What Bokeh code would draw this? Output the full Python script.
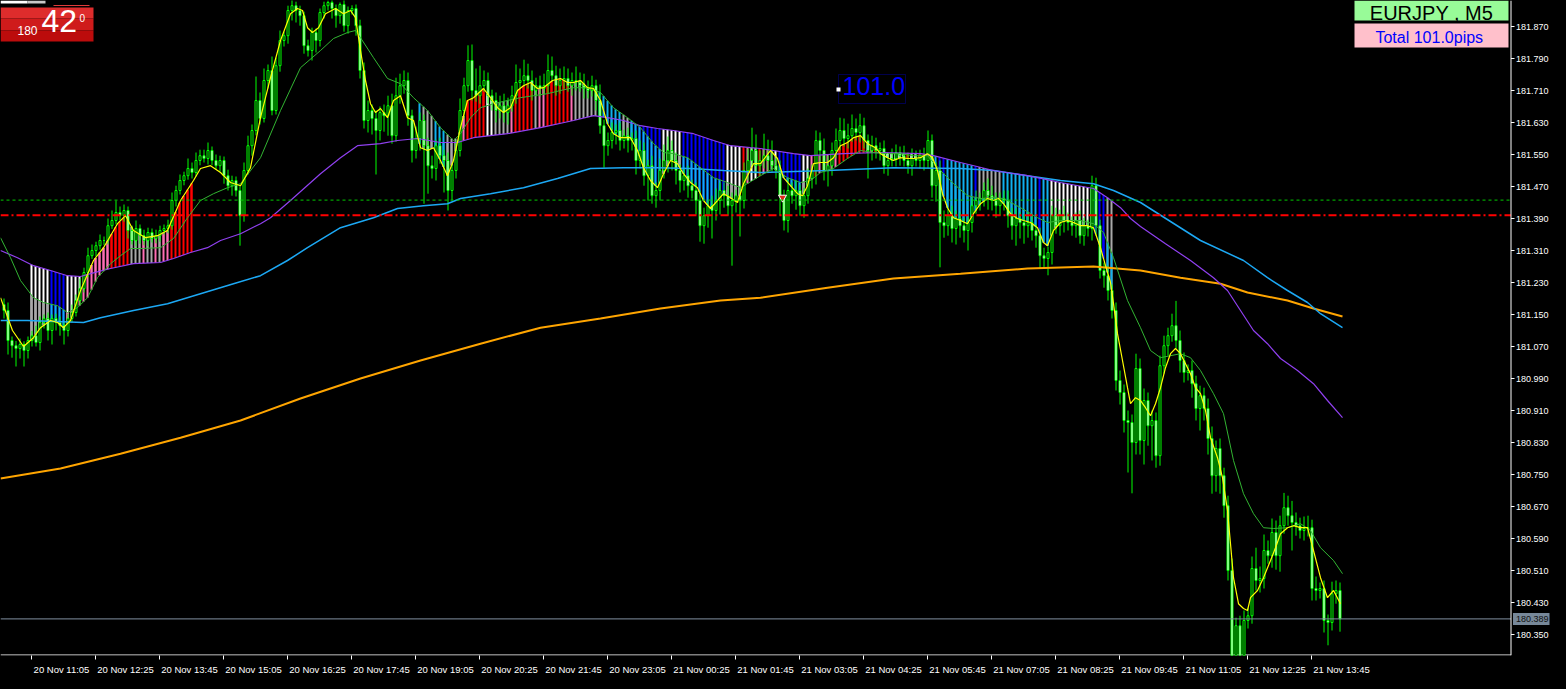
import numpy as np
from bokeh.plotting import figure
from bokeh.models import (Range1d, FixedTicker, Span, Label, BoxAnnotation)
from bokeh.core.properties import value
from bokeh.embed import file_html
from bokeh.resources import INLINE

# ---------------- data (EURJPY M5, bar 0 = 20 Nov 11:05) ----------------
FIRST_BAR = -7
first_open = 181.175

closes = [
    181.160, 181.085, 181.072, 181.065, 181.075, 181.060, 181.085, 181.097, 181.080, 181.130,
    181.140, 181.110, 181.140, 181.130, 181.122, 181.110, 181.140, 181.155, 181.185, 181.215,
    181.255, 181.297, 181.310, 181.322, 181.335, 181.335, 181.372, 181.385, 181.405, 181.397,
    181.410, 181.360, 181.335, 181.365, 181.347, 181.335, 181.355, 181.340, 181.347, 181.360,
    181.365, 181.372, 181.435, 181.460, 181.485, 181.497, 181.515, 181.505, 181.535, 181.547,
    181.540, 181.560, 181.535, 181.522, 181.535, 181.497, 181.472, 181.485, 181.460, 181.397,
    181.510, 181.572, 181.610, 181.685, 181.640, 181.735, 181.760, 181.660, 181.772, 181.835,
    181.847, 181.910, 181.922, 181.910, 181.897, 181.822, 181.810, 181.855, 181.835, 181.905,
    181.922, 181.930, 181.915, 181.897, 181.925, 181.872, 181.910, 181.915, 181.872, 181.760,
    181.635, 181.660, 181.640, 181.610, 181.655, 181.647, 181.672, 181.597, 181.697, 181.722,
    181.735, 181.647, 181.560, 181.590, 181.635, 181.572, 181.522, 181.515, 181.572, 181.547,
    181.535, 181.460, 181.510, 181.560, 181.660, 181.722, 181.785, 181.710, 181.697, 181.722,
    181.735, 181.697, 181.685, 181.660, 181.672, 181.655, 181.672, 181.697, 181.730, 181.735,
    181.747, 181.735, 181.710, 181.722, 181.715, 181.722, 181.760, 181.747, 181.722, 181.735,
    181.740, 181.722, 181.735, 181.730, 181.722, 181.715, 181.710, 181.722, 181.685, 181.622,
    181.572, 181.585, 181.605, 181.610, 181.585, 181.597, 181.585, 181.590, 181.535, 181.560,
    181.497, 181.522, 181.447, 181.460, 181.510, 181.535, 181.560, 181.535, 181.510, 181.485,
    181.497, 181.472, 181.460, 181.435, 181.372, 181.397, 181.422, 181.410, 181.435, 181.460,
    181.447, 181.422, 181.435, 181.447, 181.435, 181.510, 181.535, 181.560, 181.522, 181.535,
    181.547, 181.535, 181.522, 181.510, 181.447, 181.385, 181.460, 181.447, 181.460, 181.422,
    181.447, 181.490, 181.510, 181.585, 181.560, 181.510, 181.522, 181.560, 181.585, 181.610,
    181.590, 181.597, 181.615, 181.605, 181.622, 181.585, 181.560, 181.572, 181.560, 181.565,
    181.522, 181.535, 181.540, 181.555, 181.547, 181.535, 181.522, 181.540, 181.535, 181.547,
    181.535, 181.585, 181.472, 181.510, 181.380, 181.372, 181.397, 181.365, 181.390, 181.372,
    181.360, 181.380, 181.422, 181.435, 181.440, 181.460, 181.447, 181.435, 181.422, 181.440,
    181.435, 181.397, 181.372, 181.390, 181.380, 181.372, 181.380, 181.360, 181.347, 181.297,
    181.290, 181.305, 181.397, 181.372, 181.397, 181.385, 181.380, 181.372, 181.385, 181.347,
    181.372, 181.365, 181.472, 181.372, 181.260, 181.247, 181.210, 181.160, 180.985, 180.955,
    180.885, 180.880, 180.830, 181.015, 180.835, 180.935, 180.872, 180.885, 180.797, 181.022,
    181.072, 181.097, 181.122, 181.085, 181.035, 181.005, 181.010, 180.977, 180.915, 180.947,
    180.915, 180.840, 180.747, 180.815, 180.747, 180.672, 180.510, 180.297, 180.372, 180.297,
    180.385, 180.397, 180.515, 180.485, 180.490, 180.560, 180.547, 180.605, 180.547, 180.622,
    180.667, 180.647, 180.630, 180.622, 180.610, 180.615, 180.617, 180.465, 180.460, 180.465,
    180.385, 180.380, 180.452, 180.460, 180.389,
]

# wick lengths in points (0.001)
upper_wick_pts = [
    15, 20, 10, 12, 15, 8, 10, 12, 25, 15,
    10, 15, 10, 12, 15, 10, 12, 20, 15, 25,
    12, 20, 15, 10, 15, 10, 18, 25, 30, 15,
    15, 10, 12, 20, 10, 15, 12, 10, 15, 12,
    10, 15, 20, 12, 15, 10, 25, 15, 20, 15,
    15, 20, 10, 15, 12, 10, 15, 12, 10, 15,
    20, 25, 15, 60, 20, 30, 15, 35, 20, 25,
    10, 12, 15, 10, 12, 10, 15, 12, 10, 10,
    10, 5, 8, 10, 5, 12, 10, 8, 10, 15,
    20, 25, 15, 20, 15, 20, 25, 30, 45, 30,
    25, 20, 15, 30, 20, 15, 20, 25, 15, 20,
    15, 20, 15, 25, 30, 20, 38, 40, 55, 50,
    25, 20, 15, 20, 25, 30, 20, 25, 45, 30,
    40, 30, 25, 20, 25, 30, 40, 35, 25, 30,
    30, 25, 20, 35, 25, 30, 20, 25, 15, 40,
    15, 20, 25, 15, 20, 15, 20, 15, 20, 25,
    20, 15, 25, 20, 30, 40, 35, 25, 20, 15,
    20, 25, 15, 20, 25, 20, 15, 25, 30, 20,
    20, 25, 20, 15, 25, 20, 30, 57, 40, 25,
    55, 40, 50, 20, 25, 15, 30, 20, 25, 15,
    20, 25, 15, 25, 20, 30, 25, 20, 30, 32,
    30, 30, 35, 25, 30, 20, 15, 25, 20, 15,
    20, 15, 25, 20, 15, 25, 20, 25, 20, 15,
    20, 25, 15, 20, 25, 30, 20, 25, 20, 15,
    20, 15, 20, 25, 15, 20, 30, 25, 20, 15,
    20, 25, 20, 25, 15, 20, 25, 20, 15, 20,
    20, 15, 25, 20, 15, 25, 20, 15, 20, 25,
    20, 15, 25, 20, 15, 20, 25, 15, 20, 25,
    20, 25, 20, 37, 25, 30, 20, 25, 20, 25,
    25, 20, 30, 62, 25, 20, 15, 25, 20, 25,
    20, 25, 30, 20, 25, 20, 25, 30, 20, 25,
    25, 20, 30, 52, 30, 40, 25, 35, 30, 25,
    37, 30, 37, 25, 20, 30, 30, 20, 30, 15,
    20, 15, 30, 25, 20,
]
lower_wick_pts = [
    20, 35, 30, 45, 25, 40, 20, 15, 10, 20,
    15, 25, 35, 20, 25, 35, 15, 10, 10, 12,
    10, 12, 8, 15, 10, 12, 10, 8, 10, 12,
    15, 20, 10, 15, 20, 12, 15, 10, 12, 15,
    10, 12, 10, 15, 10, 12, 10, 15, 10, 12,
    10, 15, 12, 10, 15, 20, 12, 25, 15, 75,
    15, 10, 25, 12, 15, 10, 20, 12, 10, 15,
    15, 20, 25, 30, 25, 20, 15, 25, 30, 15,
    15, 12, 25, 30, 20, 15, 20, 10, 25, 20,
    20, 30, 40, 110, 25, 40, 50, 20, 15, 20,
    20, 25, 30, 20, 30, 145, 70, 25, 30, 20,
    80, 50, 25, 20, 15, 20, 15, 25, 15, 20,
    15, 20, 25, 30, 20, 25, 30, 15, 20, 15,
    15, 20, 25, 15, 20, 15, 20, 15, 25, 20,
    20, 15, 25, 20, 15, 25, 20, 15, 25, 20,
    55, 25, 20, 30, 25, 20, 30, 25, 35, 20,
    25, 62, 20, 30, 25, 20, 30, 25, 35, 30,
    25, 30, 20, 35, 40, 45, 30, 70, 25, 35,
    30, 25, 150, 30, 90, 20, 25, 15, 20, 25,
    20, 25, 15, 20, 50, 25, 30, 20, 35, 25,
    30, 20, 25, 35, 30, 25, 40, 25, 20, 25,
    20, 25, 15, 20, 25, 20, 70, 25, 20, 25,
    20, 25, 15, 20, 25, 15, 20, 25, 15, 20,
    25, 20, 30, 40, 112, 30, 25, 35, 40, 30,
    30, 50, 25, 20, 25, 20, 35, 25, 30, 25,
    25, 30, 35, 50, 40, 45, 30, 25, 30, 32,
    25, 42, 30, 20, 25, 30, 20, 25, 30, 20,
    25, 20, 30, 25, 20, 30, 25, 20, 25, 30,
    30, 125, 127, 30, 35, 60, 50, 87, 30, 25,
    20, 25, 15, 20, 30, 25, 20, 35, 30, 55,
    30, 40, 45, 40, 45, 30, 25, 12, 15, 10,
    8, 20, 20, 25, 30, 25, 20, 30, 35, 40,
    20, 25, 70, 25, 20, 25, 20, 30, 25, 20,
    30, 57, 20, 25, 32,
]

# moving averages: (bar position, price)
yellow_ma = [
    (-7.75, 181.192), (-4.75, 181.110), (-2.0, 181.070), (0.5, 181.092), (2.25, 181.117),
    (4.75, 181.135), (6.5, 181.130), (8.0, 181.117), (9.75, 181.135), (12.25, 181.210),
    (15.5, 181.285), (18.0, 181.317), (21.5, 181.377), (23.5, 181.397), (25.5, 181.360),
    (28.5, 181.342), (31.5, 181.347), (34.0, 181.360), (37.25, 181.435), (40.5, 181.485),
    (42.25, 181.515), (44.75, 181.522), (47.25, 181.505), (49.75, 181.480), (52.25, 181.472),
    (54.75, 181.517), (57.25, 181.642), (59.75, 181.742), (62.25, 181.835), (64.75, 181.902),
    (66.5, 181.915), (67.75, 181.910), (69.0, 181.867), (70.25, 181.855), (71.75, 181.867),
    (73.5, 181.902), (76.0, 181.915), (78.0, 181.902), (79.75, 181.910), (81.0, 181.892),
    (82.25, 181.810), (83.5, 181.735), (84.75, 181.677), (86.0, 181.655), (87.25, 181.665),
    (89.0, 181.642), (90.5, 181.685), (92.25, 181.697), (94.0, 181.642), (95.5, 181.635),
    (97.25, 181.567), (99.0, 181.560), (100.5, 181.567), (102.25, 181.535), (104.0, 181.497),
    (105.5, 181.535), (107.25, 181.617), (109.0, 181.685), (110.5, 181.692), (113.0, 181.715),
    (114.75, 181.692), (116.5, 181.667), (118.0, 181.655), (119.75, 181.667), (121.5, 181.710),
    (123.0, 181.722), (124.75, 181.730), (126.5, 181.715), (128.0, 181.717), (130.25, 181.735),
    (132.25, 181.740), (134.0, 181.730), (135.5, 181.730), (137.25, 181.735), (139.0, 181.717),
    (140.5, 181.715), (142.25, 181.685), (144.0, 181.627), (145.5, 181.602), (147.25, 181.592),
    (149.75, 181.592), (151.5, 181.560), (153.0, 181.517), (154.75, 181.485), (156.5, 181.467),
    (158.0, 181.502), (159.75, 181.535), (161.5, 181.527), (163.0, 181.502), (164.75, 181.480),
    (166.5, 181.467), (168.0, 181.435), (169.75, 181.415), (171.5, 181.435), (173.0, 181.452),
    (174.75, 181.442), (176.5, 181.430), (178.0, 181.477), (180.5, 181.527), (182.25, 181.527),
    (184.75, 181.560), (186.5, 181.540), (188.0, 181.492), (189.75, 181.472), (191.5, 181.452),
    (192.75, 181.447), (194.0, 181.472), (195.5, 181.527), (197.25, 181.530), (199.0, 181.530),
    (200.5, 181.542), (202.25, 181.572), (204.0, 181.580), (205.5, 181.592), (207.25, 181.597),
    (209.0, 181.577), (211.0, 181.567), (212.25, 181.552), (214.0, 181.542), (215.5, 181.535),
    (217.25, 181.542), (219.0, 181.540), (220.5, 181.540), (222.25, 181.542), (224.0, 181.552),
    (225.25, 181.542), (226.5, 181.510), (227.75, 181.452), (229.0, 181.417), (230.5, 181.392),
    (232.25, 181.385), (234.0, 181.377), (235.5, 181.402), (237.25, 181.427), (239.0, 181.440),
    (240.5, 181.435), (241.75, 181.440), (243.0, 181.427), (244.75, 181.402), (246.5, 181.390),
    (248.0, 181.385), (249.75, 181.380), (251.5, 181.367), (253.0, 181.330), (254.0, 181.322),
    (255.5, 181.360), (257.25, 181.380), (259.0, 181.385), (260.5, 181.380), (262.25, 181.372),
    (264.0, 181.372), (265.5, 181.367), (267.25, 181.317), (268.5, 181.272), (269.75, 181.230),
    (270.5, 181.177), (271.5, 181.102), (272.75, 181.035), (274.0, 180.967), (274.75, 180.927),
    (276.0, 180.942), (277.25, 180.935), (278.5, 180.917), (279.75, 180.897), (281.0, 180.927),
    (282.25, 180.967), (283.5, 181.017), (284.75, 181.052), (286.0, 181.065), (287.25, 181.052),
    (288.5, 181.027), (289.75, 181.002), (291.0, 180.967), (292.25, 180.952), (293.5, 180.910),
    (294.75, 180.842), (296.5, 180.792), (297.75, 180.742), (299.0, 180.660), (299.75, 180.577),
    (300.5, 180.492), (301.75, 180.427), (303.0, 180.415), (304.0, 180.410), (304.75, 180.442),
    (306.5, 180.460), (308.0, 180.492), (309.75, 180.535), (311.0, 180.567), (312.25, 180.602),
    (314.0, 180.617), (315.5, 180.622), (317.25, 180.617), (319.0, 180.617), (320.5, 180.560),
    (322.25, 180.492), (324.0, 180.442), (325.5, 180.460), (327.25, 180.427),
]
green_ma = [
    (-7.75, 181.342), (-5.25, 181.292), (-2.75, 181.235), (0.5, 181.192), (3.0, 181.180),
    (6.5, 181.172), (9.0, 181.155), (11.5, 181.167), (14.0, 181.192), (16.5, 181.242),
    (19.75, 181.277), (22.25, 181.297), (24.75, 181.315), (27.25, 181.315), (32.25, 181.317),
    (35.5, 181.340), (39.0, 181.392), (42.25, 181.435), (45.5, 181.452), (49.0, 181.467),
    (52.25, 181.477), (57.25, 181.542), (62.25, 181.660), (67.25, 181.767), (72.25, 181.810),
    (75.5, 181.840), (79.0, 181.855), (81.0, 181.860), (82.25, 181.842), (85.5, 181.792),
    (89.0, 181.740), (92.25, 181.727), (95.5, 181.692), (99.0, 181.660), (102.25, 181.617),
    (105.5, 181.585), (107.25, 181.602), (109.75, 181.642), (112.25, 181.667), (115.5, 181.677),
    (119.0, 181.685), (122.25, 181.692), (125.5, 181.697), (129.0, 181.702), (132.25, 181.710),
    (135.5, 181.717), (139.0, 181.717), (142.25, 181.705), (145.5, 181.667), (149.0, 181.642),
    (152.25, 181.617), (155.5, 181.577), (158.0, 181.555), (160.5, 181.552), (164.0, 181.542),
    (167.25, 181.517), (170.5, 181.492), (174.0, 181.480), (177.25, 181.467), (182.25, 181.497),
    (185.5, 181.515), (189.0, 181.492), (192.25, 181.480), (194.75, 181.485), (197.25, 181.505),
    (200.5, 181.515), (204.0, 181.540), (207.25, 181.560), (210.5, 181.555), (214.0, 181.552),
    (217.25, 181.552), (220.5, 181.547), (224.0, 181.547), (227.25, 181.510), (230.5, 181.477),
    (234.0, 181.447), (237.25, 181.440), (240.5, 181.442), (243.0, 181.440), (247.25, 181.417),
    (251.5, 181.392), (254.0, 181.380), (257.25, 181.385), (262.25, 181.385), (265.5, 181.377),
    (268.0, 181.355), (270.5, 181.292), (274.0, 181.185), (277.25, 181.117), (279.75, 181.060),
    (282.25, 181.042), (284.75, 181.047), (287.25, 181.052), (289.75, 181.042), (292.25, 181.010),
    (295.5, 180.952), (298.0, 180.902), (300.5, 180.785), (303.0, 180.702), (305.5, 180.652),
    (308.0, 180.617), (310.5, 180.615), (314.0, 180.617), (317.25, 180.627), (319.75, 180.610),
    (322.25, 180.567), (325.5, 180.535), (327.75, 180.502),
]
purple_ma = [
    (-7.75, 181.310), (-3.5, 181.292), (0.5, 181.272), (4.75, 181.260), (9.0, 181.247),
    (12.25, 181.245), (14.75, 181.252), (19.75, 181.265), (25.5, 181.277), (32.25, 181.280),
    (35.5, 181.290), (39.75, 181.305), (44.0, 181.317), (47.25, 181.335), (52.25, 181.352),
    (57.25, 181.377), (59.75, 181.392), (64.75, 181.435), (72.25, 181.502), (77.25, 181.542),
    (81.5, 181.572), (87.25, 181.577), (91.5, 181.585), (96.5, 181.590), (102.25, 181.580),
    (106.5, 181.580), (110.5, 181.592), (119.0, 181.602), (127.25, 181.617), (135.5, 181.635),
    (140.5, 181.647), (144.0, 181.642), (148.0, 181.635), (152.25, 181.622), (156.5, 181.615),
    (160.5, 181.610), (165.5, 181.602), (170.5, 181.585), (174.75, 181.572), (179.75, 181.567),
    (182.25, 181.565), (190.5, 181.552), (194.75, 181.547), (203.0, 181.552), (212.25, 181.555),
    (222.25, 181.552), (225.5, 181.547), (232.25, 181.530), (240.5, 181.510), (249.0, 181.497),
    (257.25, 181.480), (265.5, 181.465), (269.0, 181.442), (272.25, 181.417), (274.75, 181.390),
    (277.25, 181.370), (283.5, 181.327), (289.75, 181.285), (295.5, 181.242), (299.0, 181.210),
    (302.25, 181.160), (305.5, 181.110), (309.0, 181.077), (312.25, 181.040), (316.5, 181.010),
    (320.5, 180.977), (324.0, 180.935), (327.75, 180.892),
]
blue_ma = [
    (-7.75, 181.135), (-1.0, 181.135), (13.0, 181.130), (17.25, 181.142), (25.5, 181.160),
    (34.0, 181.177), (42.25, 181.202), (50.5, 181.227), (57.25, 181.247), (64.0, 181.285),
    (69.0, 181.317), (77.25, 181.367), (85.5, 181.392), (91.5, 181.415), (98.0, 181.422),
    (104.0, 181.427), (107.25, 181.440), (114.75, 181.452), (123.0, 181.467), (131.5, 181.490),
    (139.75, 181.515), (148.0, 181.517), (156.5, 181.517), (164.75, 181.515), (173.0, 181.510),
    (182.25, 181.505), (199.0, 181.510), (215.5, 181.517), (232.25, 181.515), (240.5, 181.510),
    (249.0, 181.497), (257.25, 181.485), (265.5, 181.477), (270.5, 181.460), (277.25, 181.430),
    (292.25, 181.335), (303.0, 181.285), (309.0, 181.242), (314.0, 181.210), (319.0, 181.180),
    (322.25, 181.152), (327.75, 181.117),
]
orange_ma = [
    (-7.75, 180.740), (7.25, 180.765), (22.25, 180.802), (37.25, 180.842), (52.25, 180.885),
    (67.25, 180.940), (82.25, 180.990), (97.25, 181.035), (112.25, 181.077), (127.25, 181.117),
    (142.25, 181.140), (157.25, 181.165), (172.25, 181.185), (182.25, 181.192), (199.0, 181.217),
    (215.5, 181.240), (232.25, 181.252), (249.0, 181.265), (265.5, 181.270), (277.25, 181.260),
    (287.25, 181.242), (297.25, 181.227), (304.0, 181.205), (314.0, 181.185), (320.5, 181.165),
    (327.75, 181.145),
]

# colour histogram runs: (first bar, last bar, colour yellow->slow MA, colour yellow->mid MA)
hist_runs = [
    (0, 4, "W", "G"), (5, 8, "B", "C"), (9, 12, "W", "P"), (13, 19, "P", "P"), (20, 24, "R", "R"),
    (25, 27, "G", "G"), (28, 28, "P", "P"), (29, 30, "G", "G"), (31, 31, "P", "P"), (32, 32, "G", "G"),
    (33, 34, "P", "P"), (35, 40, "R", "R"),
    (97, 97, "C", "C"), (98, 100, "G", "G"), (101, 103, "C", "C"), (104, 106, "G", "G"),
    (107, 108, "P", "P"), (109, 113, "R", "R"), (114, 115, "W", "W"), (116, 119, "G", "G"),
    (120, 120, "P", "P"), (121, 125, "R", "R"), (126, 126, "G", "G"), (127, 128, "P", "P"),
    (129, 134, "R", "R"), (135, 135, "P", "P"), (136, 141, "G", "G"), (142, 147, "C", "C"),
    (148, 149, "G", "G"), (150, 150, "C", "C"), (151, 157, "B", "C"), (158, 162, "W", "G"),
    (163, 172, "B", "C"), (173, 173, "B", "B"), (174, 177, "W", "G"), (178, 178, "R", "R"),
    (179, 179, "P", "P"), (180, 181, "W", "W"), (182, 182, "R", "R"), (183, 184, "P", "P"),
    (185, 186, "W", "G"), (187, 192, "B", "C"), (193, 194, "W", "G"), (195, 195, "P", "P"),
    (196, 196, "R", "R"), (197, 197, "P", "P"), (198, 198, "R", "R"), (199, 201, "P", "P"),
    (202, 208, "R", "R"), (209, 210, "P", "P"), (211, 212, "R", "R"), (213, 218, "W", "W"),
    (219, 219, "R", "R"), (220, 221, "W", "W"), (222, 223, "R", "R"), (224, 225, "W", "W"),
    (226, 226, "C", "C"), (227, 228, "B", "C"), (229, 235, "C", "C"), (236, 236, "B", "C"),
    (237, 242, "G", "C"), (243, 251, "C", "C"), (252, 252, "B", "B"), (253, 254, "C", "C"),
    (255, 265, "W", "G"), (266, 268, "B", "B"), (269, 270, "G", "C"),
]
hist_palette = {"R": "#FF0000", "P": "#FF6EB4", "W": "#FFFFFF", "G": "#A9A9A9",
                "B": "#0000FF", "C": "#10B0F0"}

green_level = 181.436
red_level = 181.398
bid_price = 180.389
arrow_bar, arrow_price = 187.75, 181.4425

x_tick_bars = [-16, 0, 16, 32, 48, 64, 80, 96, 112, 128, 144, 160, 176, 192, 208, 224,
               240, 256, 272, 288, 304, 320]
x_tick_labels = ["20 Nov 09:45", "20 Nov 11:05", "20 Nov 12:25", "20 Nov 13:45", "20 Nov 15:05",
                 "20 Nov 16:25", "20 Nov 17:45", "20 Nov 19:05", "20 Nov 20:25", "20 Nov 21:45",
                 "20 Nov 23:05", "21 Nov 00:25", "21 Nov 01:45", "21 Nov 03:05", "21 Nov 04:25",
                 "21 Nov 05:45", "21 Nov 07:05", "21 Nov 08:25", "21 Nov 09:45", "21 Nov 11:05",
                 "21 Nov 12:25", "21 Nov 13:45"]
y_ticks = [180.350, 180.430, 180.510, 180.590, 180.670, 180.750, 180.830, 180.910, 180.990,
           181.070, 181.150, 181.230, 181.310, 181.390, 181.470, 181.550, 181.630, 181.710,
           181.790, 181.870]

# ---------------- layout ----------------
FW, FH = 1550, 655
PX_PER_BAR = 4.0
PX_PER_PRICE = 400.0
X_START = -7.75
Y_TOP = 181.935
FONT = "Liberation Sans"


def sx(px):  # screen pixel -> bar coordinate (used for overlay placement only)
    return (px - 31) / PX_PER_BAR


def sy(py):
    return Y_TOP - py / PX_PER_PRICE


p = figure(frame_width=FW, frame_height=FH,
           x_range=Range1d(X_START, X_START + FW / PX_PER_BAR),
           y_range=Range1d(Y_TOP - FH / PX_PER_PRICE, Y_TOP),
           y_axis_location=None, output_backend="svg", toolbar_location=None,
           min_border=0, min_border_left=0, min_border_top=0, min_border_right=0, min_border_bottom=0)
p.background_fill_color = "#000000"
p.border_fill_color = "#000000"
p.outline_line_color = None
p.grid.visible = False

try:
    from bokeh.models import GlobalInlineStyleSheet
    p.stylesheets = [GlobalInlineStyleSheet(css="html, body { background-color: #000000; }")]
except Exception:
    pass

AXIS_PX = 1510.5
AXIS_X = sx(AXIS_PX)

# bottom time axis: minor ticks mark the times, major (hidden) ticks carry left-aligned labels
label_pos = [t + 7.5 for t in x_tick_bars]
xa = p.xaxis[0]
xa.ticker = FixedTicker(ticks=label_pos, minor_ticks=x_tick_bars)
xa.major_label_overrides = {lp: lab for lp, lab in zip(label_pos, x_tick_labels)}
xa.axis_line_color = None
xa.major_tick_line_color = None
xa.major_tick_in = 0
xa.major_tick_out = 0
xa.minor_tick_line_color = "#FFFFFF"
xa.minor_tick_in = 0
xa.minor_tick_out = 4
xa.major_label_standoff = 4
xa.major_label_text_color = "#FFFFFF"
xa.major_label_text_font = FONT
xa.major_label_text_font_size = "9.5px"

y_bottom = Y_TOP - FH / PX_PER_PRICE
# chart frame lines (bottom + right price scale)
p.segment(x0=[X_START], y0=[y_bottom + 0.5 / PX_PER_PRICE], x1=[AXIS_X],
          y1=[y_bottom + 0.5 / PX_PER_PRICE], line_color="#FFFFFF", line_width=1)
p.add_layout(Span(location=AXIS_X, dimension="height", line_color="#FFFFFF", line_width=1))
p.segment(x0=[AXIS_X] * len(y_ticks), y0=y_ticks, x1=[sx(AXIS_PX + 3.5)] * len(y_ticks), y1=y_ticks,
          line_color="#FFFFFF", line_width=1)
p.text(x=[sx(AXIS_PX + 5)] * len(y_ticks), y=y_ticks, text=[f"{v:.3f}" for v in y_ticks],
       text_color="#FFFFFF", text_font=value(FONT), text_font_size=value("9px"),
       text_baseline="middle", text_align="left")

# ---------------- histogram ----------------
yb, yv = zip(*yellow_ma)
gb, gv = zip(*green_ma)
pb, pv = zip(*purple_ma)
h1x, h1a, h1b, h1c = [], [], [], []
h2x, h2a, h2b, h2c = [], [], [], []
for a, b, c_main, c_sub in hist_runs:
    for i in range(a, b + 1):
        yi = float(np.interp(i, yb, yv))
        h1x.append(i); h1a.append(yi); h1b.append(float(np.interp(i, pb, pv))); h1c.append(hist_palette[c_main])
        h2x.append(i); h2a.append(yi); h2b.append(float(np.interp(i, gb, gv))); h2c.append(hist_palette[c_sub])
p.segment(x0=h1x, y0=h1a, x1=h1x, y1=h1b, line_color=h1c, line_width=2)
p.segment(x0=h2x, y0=h2a, x1=h2x, y1=h2b, line_color=h2c, line_width=2)

# ---------------- candles ----------------
n = min(len(closes), len(upper_wick_pts), len(lower_wick_pts))
bars = np.arange(FIRST_BAR, FIRST_BAR + n) + 0.125
c = np.array(closes[:n])
o = np.concatenate([[first_open], c[:-1]])
top = np.maximum(o, c)
bot = np.minimum(o, c)
hi = top + np.array(upper_wick_pts[:n]) * 0.001
lo = bot - np.array(lower_wick_pts[:n]) * 0.001
fill = ["#000000" if cc > oo else "#FFFFFF" for cc, oo in zip(c, o)]
p.segment(x0=bars, y0=lo, x1=bars, y1=hi, line_color="#00FF00", line_width=1)
p.vbar(x=bars, width=0.5, top=top, bottom=bot, fill_color=fill, line_color="#00FF00", line_width=1)

# ---------------- moving averages ----------------
for pts, col, w in [(orange_ma, "#FFA500", 2), (blue_ma, "#1CA8F4", 1.5), (purple_ma, "#9040F0", 1.2),
                    (green_ma, "#32B432", 1), (yellow_ma, "#FFFF00", 1.2)]:
    xs, ys = zip(*pts)
    p.line(list(xs), list(ys), line_color=col, line_width=w)

# signal arrow
p.scatter([arrow_bar], [arrow_price], marker="inverted_triangle", size=8,
          fill_color="#E02818", line_color="#FFFFFF", line_width=1)

# ---------------- horizontal levels ----------------
p.segment(x0=[X_START], y0=[green_level], x1=[AXIS_X], y1=[green_level],
          line_color="#00CC00", line_dash="3 3", line_width=1)
p.segment(x0=[X_START], y0=[red_level], x1=[AXIS_X], y1=[red_level],
          line_color="#FF0000", line_dash="8 3 2 3", line_width=2)
p.segment(x0=[X_START], y0=[bid_price], x1=[AXIS_X], y1=[bid_price],
          line_color="#8090A0", line_width=1)

# bid price tag on the price scale
p.quad(left=[sx(AXIS_PX + 2)], right=[sx(1549)], top=[bid_price + 6 / PX_PER_PRICE],
       bottom=[bid_price - 6 / PX_PER_PRICE], fill_color="#778899", line_color=None)
p.text(x=[sx(AXIS_PX + 5)], y=[bid_price], text=[f"{bid_price:.3f}"], text_color="#101010",
       text_font=value(FONT), text_font_size=value("9px"), text_baseline="middle")

# ---------------- overlays ----------------
p.add_layout(BoxAnnotation(left=sx(0), right=sx(27), top=sy(0), bottom=sy(3),
                           fill_color="#FFFFFF", fill_alpha=1.0, line_color=None))
p.add_layout(BoxAnnotation(left=sx(27), right=sx(45), top=sy(0), bottom=sy(3),
                           fill_color="#C8C8C8", fill_alpha=1.0, line_color=None))
p.add_layout(BoxAnnotation(left=sx(53), right=sx(89), top=sy(4.5), bottom=sy(5.5),
                           fill_color="#E03A3A", fill_alpha=1.0, line_color=None))
for t_px, b_px, col in [(7, 18, "#DE2C2C"), (18, 30, "#CF1B1B"), (30, 41, "#BC0C0C")]:
    p.add_layout(BoxAnnotation(left=sx(0), right=sx(93), top=sy(t_px), bottom=sy(b_px),
                               fill_color=col, fill_alpha=1.0, line_color=None))
p.add_layout(Label(x=sx(17), y=sy(25.5), text="180", text_color="#FFFFFF", text_font=FONT,
                   text_font_size="12px", text_baseline="top"))
p.add_layout(Label(x=sx(41), y=sy(9), text="42", text_color="#FFFFFF", text_font=FONT,
                   text_font_size="32px", text_baseline="top"))
p.add_layout(Label(x=sx(79), y=sy(13), text="0", text_color="#FFFFFF", text_font=FONT,
                   text_font_size="10px", text_baseline="top"))

p.add_layout(BoxAnnotation(left=sx(1354), right=sx(1508), top=sy(0), bottom=sy(20),
                           fill_color="#98FB98", fill_alpha=1.0, line_color=None))
p.add_layout(Label(x=sx(1431), y=sy(1.5), text="EURJPY , M5", text_align="center",
                   text_color="#000000", text_font=FONT, text_font_size="20px",
                   text_baseline="top"))
p.add_layout(BoxAnnotation(left=sx(1354), right=sx(1508), top=sy(23), bottom=sy(47),
                           fill_color="#FFC0CB", fill_alpha=1.0, line_color=None))
p.add_layout(Label(x=sx(1431), y=sy(28), text="Total  101.0pips", text_align="center",
                   text_color="#0000FF", text_font=FONT, text_font_size="16px",
                   text_baseline="top"))

p.add_layout(BoxAnnotation(left=sx(838), right=sx(905), top=sy(74), bottom=sy(103),
                           fill_alpha=0.0, line_color="#0000FF", line_width=1))
p.add_layout(Label(x=sx(842), y=sy(76), text="101.0", text_color="#0000FF", text_font=FONT,
                   text_font_size="25px", text_baseline="top"))
p.add_layout(BoxAnnotation(left=sx(836), right=sx(840), top=sy(87), bottom=sy(91),
                           fill_color="#FFFFFF", fill_alpha=1.0, line_color=None))

open("out.html", "w").write(file_html(p, INLINE))
